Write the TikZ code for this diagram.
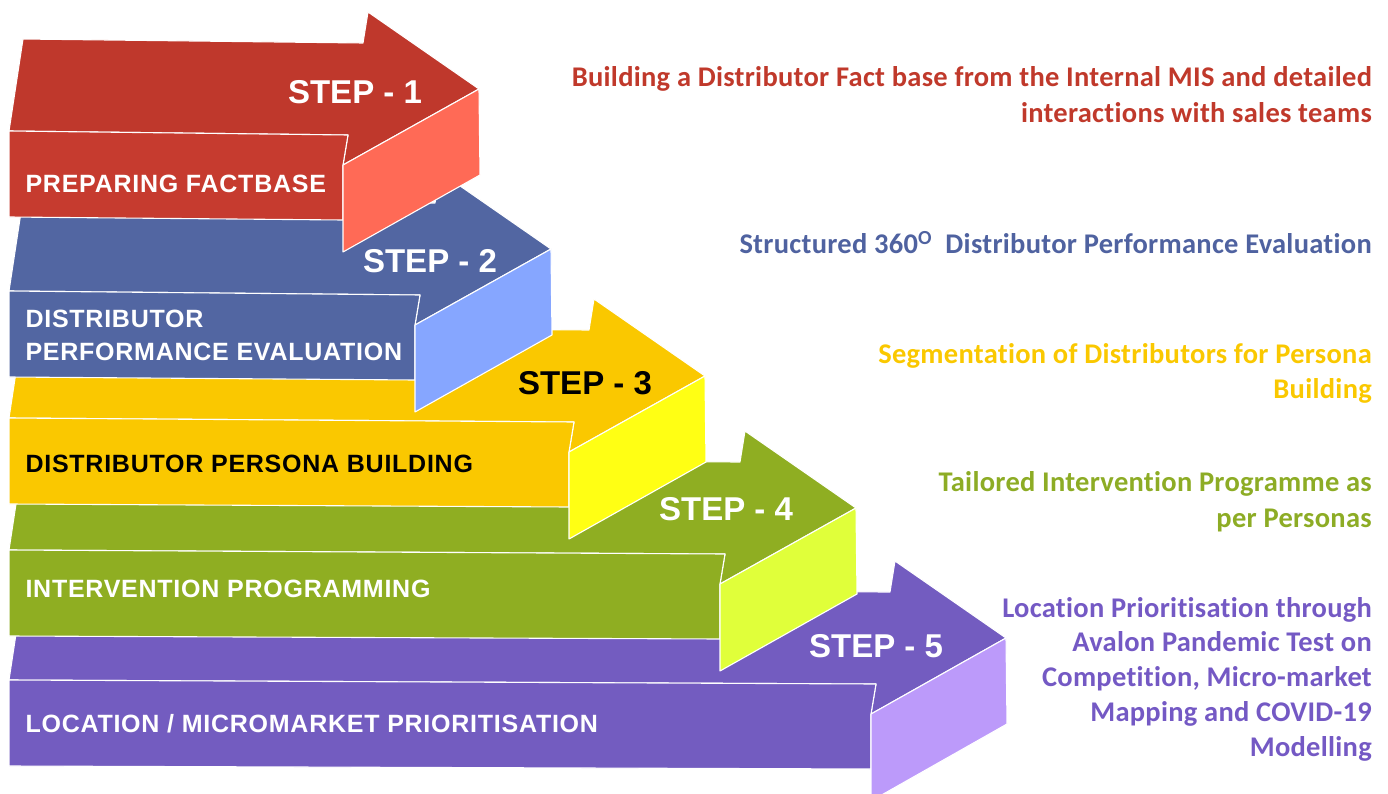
\documentclass[tikz,border=0pt]{standalone}
\usepackage{fontspec}
\setmainfont{Liberation Sans}
\newfontfamily\arialbold[LetterSpace=3]{Liberation Sans}
\newfontfamily\stepfont{Liberation Sans}
\newfontfamily\notefont[Ligatures=NoCommon,LetterSpace=1]{Carlito}

\definecolor{redTop}{RGB}{191,56,44}
\definecolor{redFront}{RGB}{198,59,47}
\definecolor{redSide}{RGB}{255,106,86}
\definecolor{blueTop}{RGB}{82,102,162}
\definecolor{blueFront}{RGB}{82,102,162}
\definecolor{blueSide}{RGB}{134,166,255}
\definecolor{yelTop}{RGB}{250,200,0}
\definecolor{yelFront}{RGB}{250,200,0}
\definecolor{yelSide}{RGB}{255,255,20}
\definecolor{grnTop}{RGB}{143,174,34}
\definecolor{grnFront}{RGB}{143,174,34}
\definecolor{grnSide}{RGB}{224,255,58}
\definecolor{purTop}{RGB}{115,92,192}
\definecolor{purFront}{RGB}{115,92,192}
\definecolor{purSide}{RGB}{188,154,250}
\definecolor{noteRed}{RGB}{192,57,43}
\definecolor{noteBlue}{RGB}{79,98,160}
\definecolor{noteYel}{RGB}{250,200,0}
\definecolor{noteGrn}{RGB}{141,172,37}
\definecolor{notePur}{RGB}{116,89,196}

% One 3-D step arrow: #1,#2 = tip, #3 = right edge of the front panel,
% #4,#5,#6 = colours of top face, front panel and head side
\newcommand\steparrow[6]{%
  \fill[face, fill=#4] (23,#2-50) -- (#1-116,#2-46) -- (#1-111,#2-77) -- (#1,#2)
    -- (#3,#2+76) -- (#3+5,#2+46) -- (9,#2+42) -- cycle;
  \fill[face, fill=#5] (9,#2+42) -- (#3+5,#2+46) -- (#3,#2+76) -- (#3,#2+131)
    -- (9,#2+128) -- cycle;
  \fill[face, fill=#6] (#3,#2+76) -- (#1,#2) -- (#1+1,#2+86) -- (#3,#2+163) -- cycle;
}

\begin{document}
\begin{tikzpicture}[x=1pt,y=-1pt,
  face/.style={draw=white, line width=1.1pt, line join=round},
  panel/.style={anchor=base west, text=white,
    font=\arialbold\bfseries\fontsize{25}{25}\selectfont},
  steplabel/.style={anchor=base, text=white,
    font=\stepfont\bfseries\fontsize{33}{33}\selectfont},
  note/.style={anchor=base east, inner sep=0pt,
    font=\notefont\bfseries\fontsize{28.5}{28.5}\selectfont}]
  \useasboundingbox (0,0) rectangle (1388,794);
  \begin{scope}
    \clip (0,0) rectangle (1388,794);
    \steparrow{1006}{638}{871}{purTop}{purFront}{purSide}
    \steparrow{856}{508}{720}{grnTop}{grnFront}{grnSide}
    \steparrow{705}{376}{569}{yelTop}{yelFront}{yelSide}
    \steparrow{551}{249}{415}{blueTop}{blueFront}{blueSide}
    \steparrow{479}{89}{343}{redTop}{redFront}{redSide}
  \end{scope}

  % step numbers on the arrow heads
  \node[steplabel] (s1) at (355,104) {STEP - 1};
  \node[steplabel] (s2) at (430,272) {STEP - 2};
  \node[steplabel, text=black] (s3) at (585,394) {STEP - 3};
  \node[steplabel] (s4) at (726,520) {STEP - 4};
  \node[steplabel] (s5) at (876,657) {STEP - 5};

  % panel titles
  \node[panel] (p1) at (22,193) {PREPARING FACTBASE};
  \node[panel] (p2a) at (22,327) {DISTRIBUTOR};
  \node[panel] (p2b) at (22,360) {PERFORMANCE EVALUATION};
  \node[panel, text=black] (p3) at (22,472) {DISTRIBUTOR PERSONA BUILDING};
  \node[panel] (p4) at (22,597) {INTERVENTION PROGRAMMING};
  \node[panel] (p5) at (22,732) {LOCATION / MICROMARKET PRIORITISATION};

  % descriptions on the right
  \node[note, text=noteRed] (d1a) at (1372,87) {Building a Distributor Fact base from the Internal MIS and detailed};
  \node[note, text=noteRed] (d1b) at (1372,123) {interactions with sales teams};
  \node[note, text=noteBlue] (d2) at (1372,254) {Structured 360\textsuperscript{O}\ \ Distributor Performance Evaluation};
  \node[note, text=noteYel] (d3a) at (1372,363) {Segmentation of Distributors for Persona};
  \node[note, text=noteYel] (d3b) at (1372,398) {Building};
  \node[note, text=noteGrn] (d4a) at (1372,491) {Tailored Intervention Programme as};
  \node[note, text=noteGrn] (d4b) at (1372,527) {per Personas};
  \node[note, text=notePur] (d5a) at (1372,617) {Location Prioritisation through};
  \node[note, text=notePur] (d5b) at (1372,651) {Avalon Pandemic Test on};
  \node[note, text=notePur] (d5c) at (1372,686) {Competition, Micro-market};
  \node[note, text=notePur] (d5d) at (1372,721) {Mapping and COVID-19};
  \node[note, text=notePur] (d5e) at (1372,756) {Modelling};
\end{tikzpicture}
\end{document}
